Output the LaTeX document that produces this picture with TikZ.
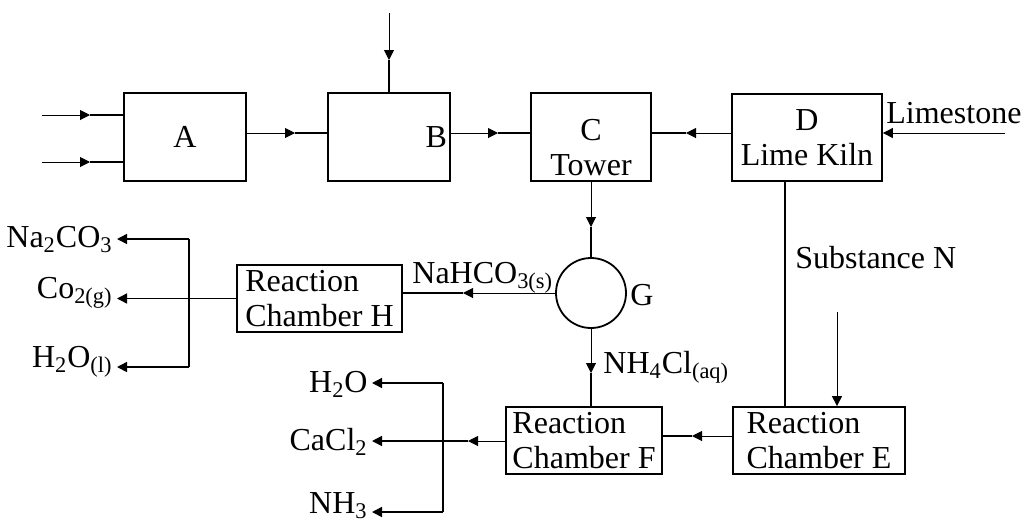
\documentclass[tikz,border=0pt]{standalone}
\usepackage{fontspec}
\setmainfont{Liberation Serif}
\usetikzlibrary{arrows.meta}

\begin{document}
\begin{tikzpicture}[x=0.5pt,y=-0.5pt,
    every node/.style={font=\fontsize{16}{17.5}\selectfont},
    box/.style={draw, line width=0.9pt, inner sep=1pt},
    chamber/.style={box, minimum height=33.5pt, inner ysep=0.5pt, align=left},
    feed/.style={line width=0.5pt, -{Triangle[length=5pt,width=5pt]}},
    outlet/.style={line width=0.75pt, -{Triangle[length=5pt,width=5pt]}},
    pipe/.style={line width=1.1pt},
    lbl/.style={inner sep=0pt},
    prod/.style={anchor=base east, inner xsep=2pt, inner ysep=0pt}]
    \useasboundingbox (0,0) rectangle (1030,521);
    % units
    \node[box, minimum width=61pt, minimum height=44pt] (A) at (185,137) {A};
    \node[box, minimum width=61pt, minimum height=44pt, text width=58pt, align=right, inner xsep=1.5pt] (B) at (389,137) {B};
    \node[box, minimum width=60pt, minimum height=44pt, align=center] (C) at (591,137) {\rule{0pt}{21pt}C\\Tower};
    \node[box, minimum width=75pt, minimum height=43.5pt, align=center] (D) at (807,137.5) {D\\Lime Kiln};
    \node[draw, circle, line width=0.9pt, minimum size=35pt, inner sep=0pt] (G) at (591,293) {};
    \node[chamber, minimum width=82.5pt] (H) at (319.5,298.5) {Reaction\\Chamber H};
    \node[chamber, minimum width=78pt] (F) at (584,440.5) {Reaction\\Chamber F};
    \node[chamber, minimum width=86pt] (E) at (819,440.5) {Reaction\\Chamber E};
    % labels
    \node[lbl, anchor=base west] (lime) at (886,123) {Limestone};
    \node[lbl, anchor=base west] (nahco) at (412,283) {NaHCO\textsubscript{3(s)}};
    \node[lbl, anchor=base west] (Glbl) at (630,305) {G};
    \node[lbl, anchor=base west] (nhcl) at (603,373) {NH\textsubscript{4}Cl\textsubscript{(aq)}};
    \node[lbl, anchor=base west] (subN) at (795,268) {Substance N};
    % products
    \node[prod] (na) at (117,247) {Na\textsubscript{2}CO\textsubscript{3}};
    \node[prod] (co) at (117,298) {Co\textsubscript{2(g)}};
    \node[prod] (hw) at (117,367) {H\textsubscript{2}O\textsubscript{(l)}};
    \node[prod] (wat) at (372,392) {H\textsubscript{2}O};
    \node[prod] (cacl) at (372,450) {CaCl\textsubscript{2}};
    \node[prod] (nh) at (372,513) {NH\textsubscript{3}};
    % top row
    \coordinate (in1) at (42,115); \coordinate (t1) at (90,115);
    \coordinate (in2) at (42,162); \coordinate (t2) at (90,162);
    \draw[feed] (in1) -- (t1); \draw[pipe] (t1) -- (A.west |- t1);
    \draw[feed] (in2) -- (t2); \draw[pipe] (t2) -- (A.west |- t2);
    \coordinate (bin) at (389,13); \coordinate (tb) at (389,60);
    \draw[feed] (bin) -- (tb); \draw[pipe] (tb) -- (B.north);
    \coordinate (ab) at (295,133);
    \draw[feed] (A.east |- ab) -- (ab); \draw[pipe] (ab) -- (B.west |- ab);
    \coordinate (bc) at (498,133);
    \draw[feed] (B.east |- bc) -- (bc); \draw[pipe] (bc) -- (C.west |- bc);
    \coordinate (dc) at (686,133);
    \draw[feed] (D.west |- dc) -- (dc); \draw[pipe] (dc) -- (C.east |- dc);
    \coordinate (stone) at (1005,133);
    \draw[feed] (stone) -- (D.east |- stone);
    % down through G
    \coordinate (cg) at (591,227);
    \draw[feed] (C.south) -- (cg); \draw[pipe] (cg) -- (G.north);
    \coordinate (gh) at (463,293);
    \draw[feed] (G.west) -- (gh); \draw[pipe] (gh) -- (H.east |- gh);
    \coordinate (gf) at (591,373);
    \draw[feed] (G.south) -- (gf); \draw[pipe] (gf) -- (gf |- F.north);
    % kiln to E, E to F
    \coordinate (de) at (785,300);
    \draw[pipe] (de |- D.south) -- (de |- E.north);
    \coordinate (nin) at (837,312);
    \draw[feed] (nin) -- (nin |- E.north);
    \coordinate (ef) at (692,436);
    \draw[feed] (E.west |- ef) -- (ef); \draw[pipe] (ef) -- (F.east |- ef);
    % outlets of H
    \coordinate (ktop) at (189,239); \coordinate (kbot) at (189,367);
    \draw[line width=0.8pt] (ktop) -- (kbot);
    \draw[outlet] (ktop) -- (na.east |- ktop);
    \draw[outlet] (H.west) -- (co.east |- H.west);
    \draw[outlet] (kbot) -- (hw.east |- kbot);
    % outlets of F
    \coordinate (fb) at (468,441);
    \coordinate (jtop) at (443,383); \coordinate (jbot) at (443,512);
    \draw[feed] (F.west |- fb) -- (fb);
    \draw[outlet] (fb) -- (cacl.east |- fb);
    \draw[line width=0.8pt] (jtop) -- (jbot);
    \draw[outlet] (jtop) -- (wat.east |- jtop);
    \draw[outlet] (jbot) -- (nh.east |- jbot);
\end{tikzpicture}
\end{document}
